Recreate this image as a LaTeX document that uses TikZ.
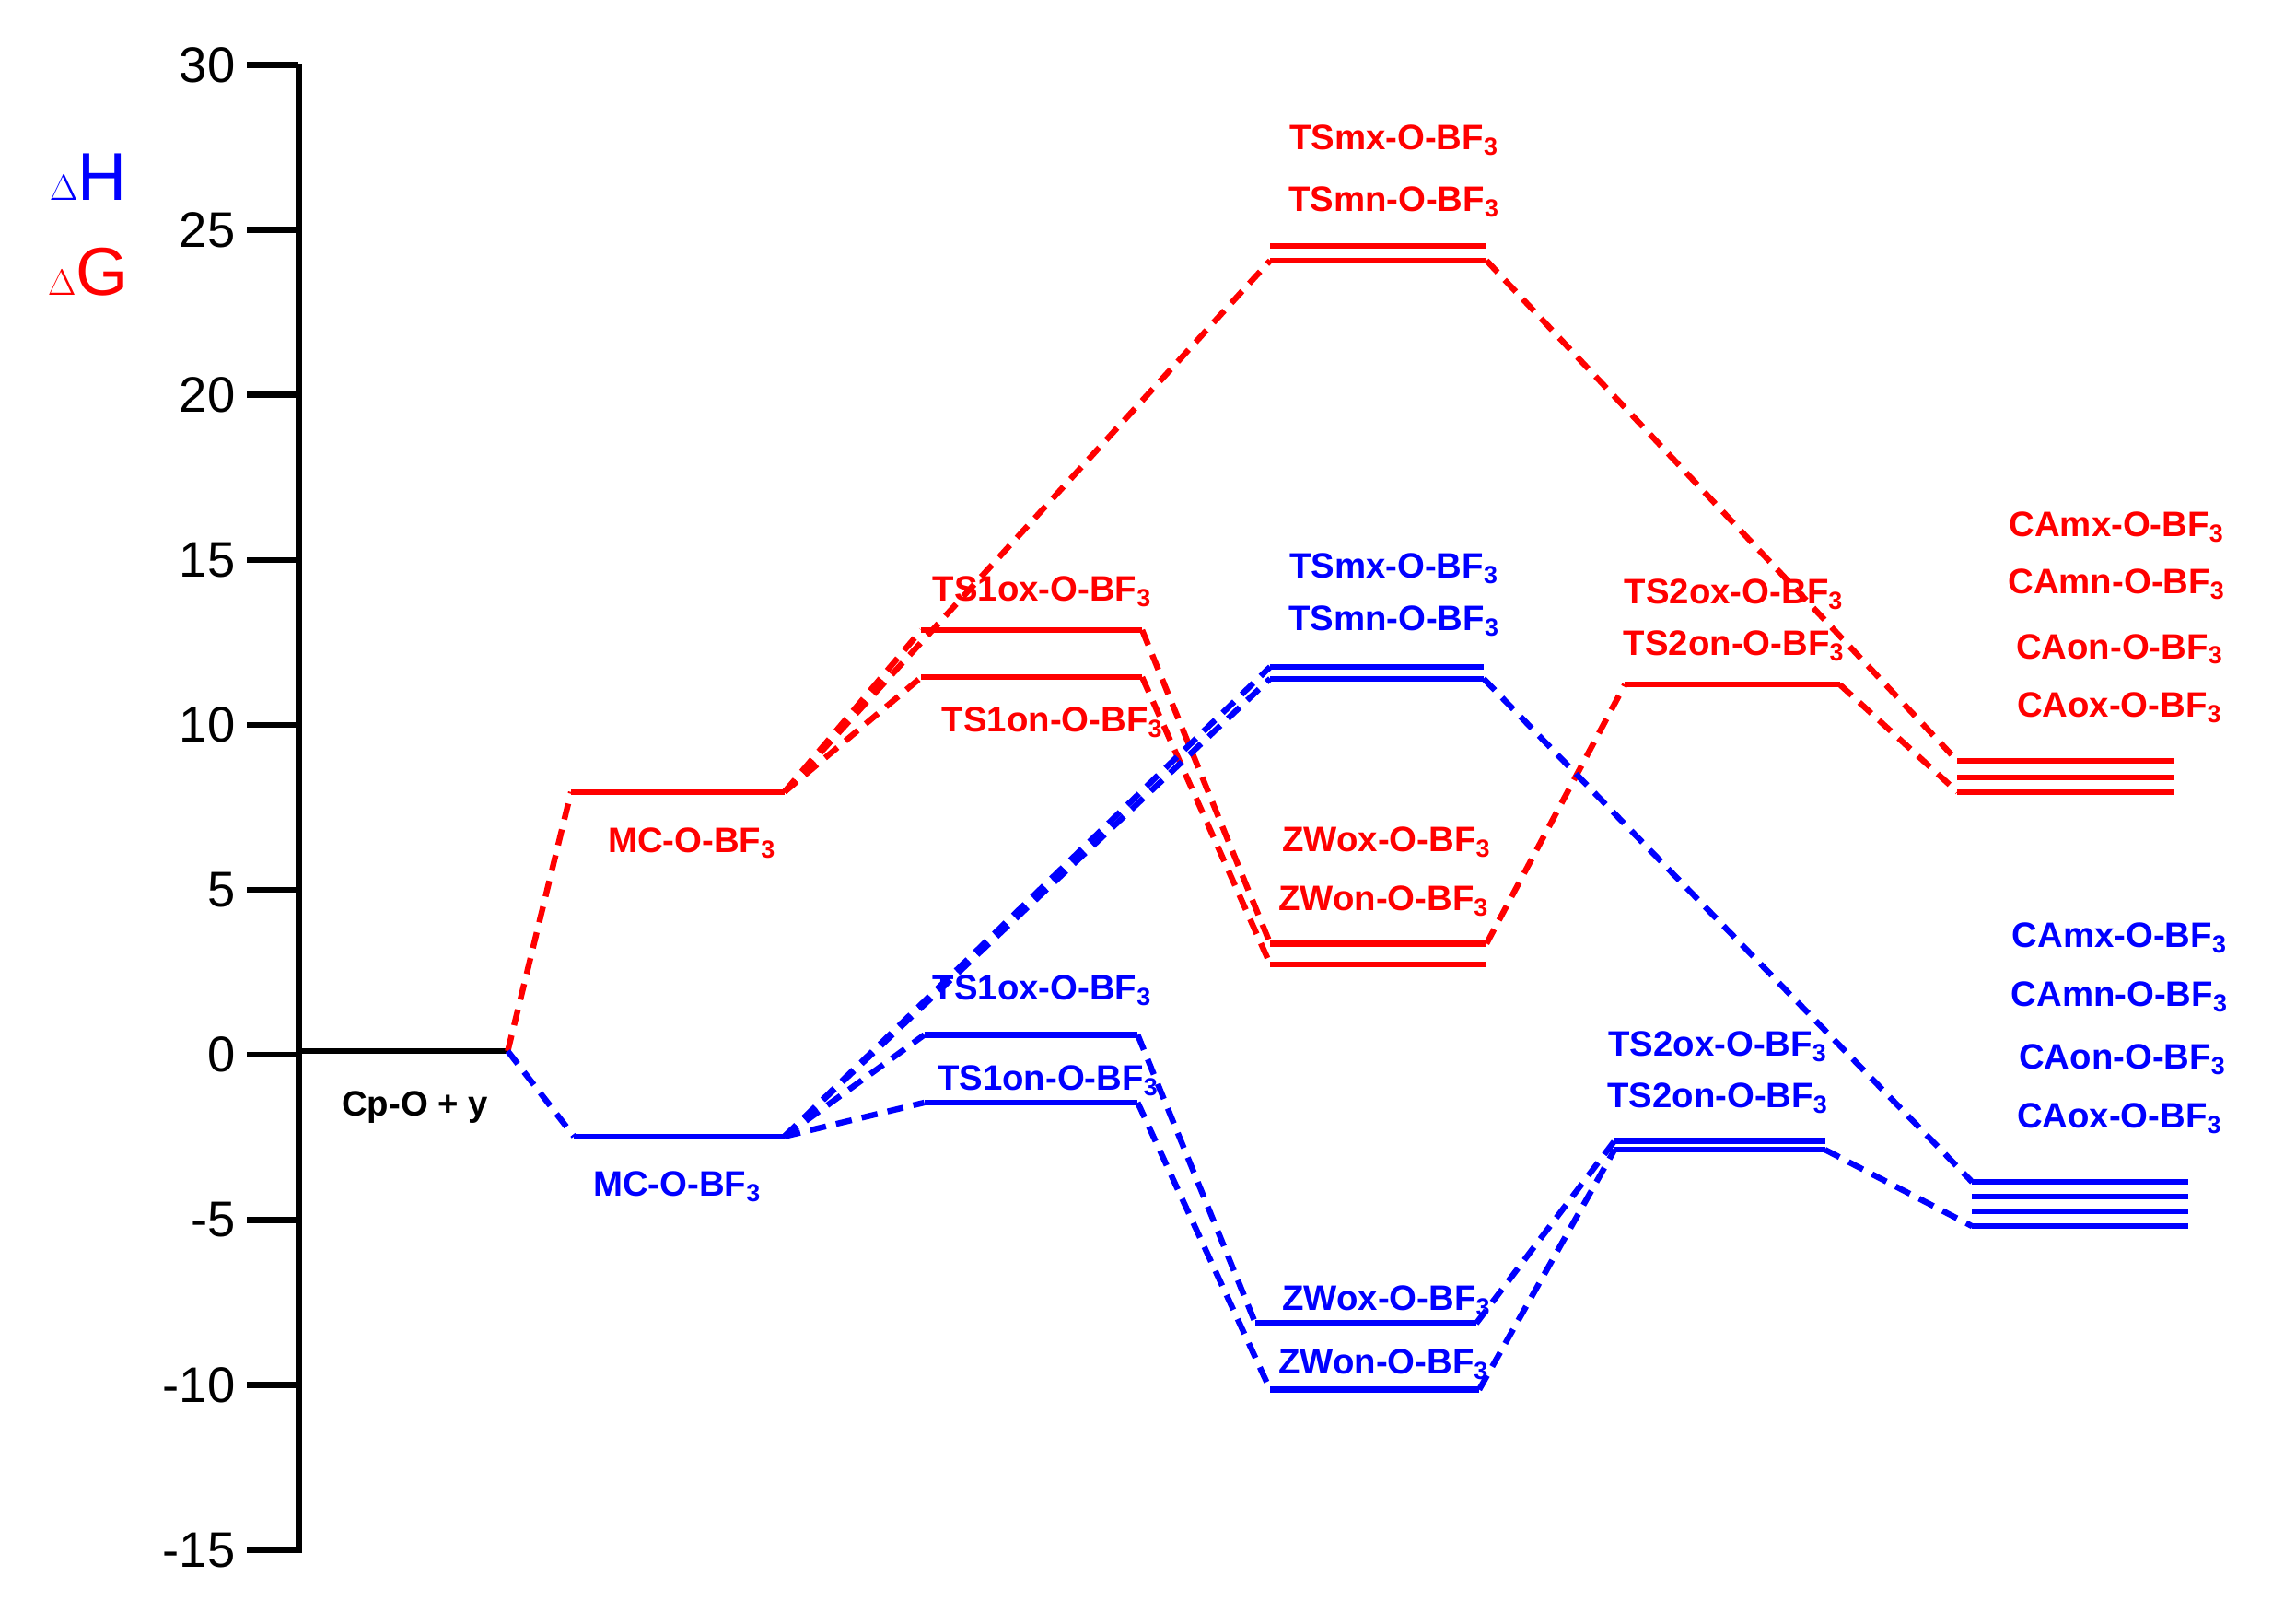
\documentclass[tikz,border=0pt]{standalone}
\usepackage{fontspec}
\setmainfont{Liberation Sans}
\begin{document}
\begin{tikzpicture}[x=1pt,y=-1pt,
 lev/.style={line width=4pt},
 con/.style={line width=4pt,dash pattern=on 11pt off 7pt},
 lab/.style={font=\fontsize{24}{26}\selectfont\bfseries,inner sep=0pt},
 tick/.style={font=\fontsize{34}{36}\selectfont,anchor=east,inner sep=0pt}]
\definecolor{rr}{RGB}{255,0,0}\definecolor{bb}{RGB}{0,0,255}
\useasboundingbox (0,0) rectangle (1560,1095);
\newcommand{\bft}{O-BF\textsubscript{3}}
% axis
\draw[line width=4pt] (203,44) -- (203,1055);
\foreach \v [count=\i from 0] in {30,25,20,15,10,5,0,-5,-10,-15}{
 \draw[line width=4pt] (168,{44+\i*112.1}) -- (203,{44+\i*112.1});
 \node[tick] (t\i) at (160,{44+\i*112.1}) {\v};}
\node[font=\fontsize{46}{48}\selectfont,text=bb] (dh) at (60,120) {$\Delta$H};
\node[font=\fontsize{46}{48}\selectfont,text=rr] (dg) at (60,185) {$\Delta$G};
% base
\draw[lev] (203,714) coordinate (b0) -- (345,714) coordinate (b1);
\node[lab] (cp) at (282,752) {Cp-O + y};
% red levels
\begin{scope}[rr]
\draw[lev] (388,538) coordinate (rmcA) -- (533,538) coordinate (rmcB);
\draw[lev] (626,428) coordinate (r1xA) -- (776,428) coordinate (r1xB);
\draw[lev] (626,460) coordinate (r1nA) -- (776,460) coordinate (r1nB);
\draw[lev] (863,167) coordinate (rmxA) -- (1010,167) coordinate (rmxB);
\draw[lev] (863,177) coordinate (rmnA) -- (1010,177) coordinate (rmnB);
\draw[lev] (863,641) coordinate (rzxA) -- (1010,641) coordinate (rzxB);
\draw[lev] (863,655) coordinate (rznA) -- (1010,655) coordinate (rznB);
\draw[lev] (1104,465) coordinate (r2A) -- (1250,465) coordinate (r2B);
\draw[lev] (1330,517) coordinate (rc1) -- (1477,517);
\draw[lev] (1330,528) coordinate (rc2) -- (1477,528);
\draw[lev] (1330,538) coordinate (rc3) -- (1477,538);
\draw[con] (b1) -- (rmcA);
\draw[con] (rmcB) -- (r1xA); \draw[con] (rmcB) -- (r1nA);
\draw[con] (rmcB) -- (rmnA);
\draw[con] (r1xB) -- (rzxA); \draw[con] (r1nB) -- (rznA);
\draw[con] (rmnB) -- (rc1);
\draw[con] (rzxB) -- (r2A);
\draw[con] (r2B) -- (rc3);
\node[lab] (lrmc) at (470,573) {MC-\bft};
\node[lab] (lr1x) at (708,402) {TS1ox-\bft};
\node[lab] (lr1n) at (715,491) {TS1on-\bft};
\node[lab] (lrmx) at (947,95) {TSmx-\bft};
\node[lab] (lrmn) at (947,137) {TSmn-\bft};
\node[lab] (lrzx) at (942,572) {ZWox-\bft};
\node[lab] (lrzn) at (940,612) {ZWon-\bft};
\node[lab] (lr2x) at (1178,404) {TS2ox-\bft};
\node[lab] (lr2n) at (1178,439) {TS2on-\bft};
\node[lab] (lrc1) at (1438,358) {CAmx-\bft};
\node[lab] (lrc2) at (1438,397) {CAmn-\bft};
\node[lab] (lrc3) at (1440,441) {CAon-\bft};
\node[lab] (lrc4) at (1440,481) {CAox-\bft};
\end{scope}
% blue levels
\begin{scope}[bb]
\draw[lev] (390,772) coordinate (bmcA) -- (533,772) coordinate (bmcB);
\draw[lev] (628,703) coordinate (b1xA) -- (773,703) coordinate (b1xB);
\draw[lev] (628,749) coordinate (b1nA) -- (773,749) coordinate (b1nB);
\draw[lev] (863,453) coordinate (bmxA) -- (1008,453) coordinate (bmxB);
\draw[lev] (863,461) coordinate (bmnA) -- (1008,461) coordinate (bmnB);
\draw[lev] (853,899) coordinate (bzxA) -- (1003,899) coordinate (bzxB);
\draw[lev] (863,944) coordinate (bznA) -- (1005,944) coordinate (bznB);
\draw[lev] (1097,775) coordinate (b2xA) -- (1240,775) coordinate (b2xB);
\draw[lev] (1097,781) coordinate (b2nA) -- (1240,781) coordinate (b2nB);
\draw[lev] (1340,803) coordinate (bc1) -- (1487,803);
\draw[lev] (1340,813) coordinate (bc2) -- (1487,813);
\draw[lev] (1340,823) coordinate (bc3) -- (1487,823);
\draw[lev] (1340,833) coordinate (bc4) -- (1487,833);
\draw[con] (b1) -- (bmcA);
\draw[con] (bmcB) -- (b1xA); \draw[con] (bmcB) -- (b1nA);
\draw[con] (bmcB) -- (bmxA); \draw[con] (bmcB) -- (bmnA);
\draw[con] (b1xB) -- (bzxA); \draw[con] (b1nB) -- (bznA);
\draw[con] (bmnB) -- (bc1);
\draw[con] (bzxB) -- (b2xA); \draw[con] (bznB) -- (b2nA);
\draw[con] (b2nB) -- (bc4);
\node[lab] (lbmc) at (460,806) {MC-\bft};
\node[lab] (lb1x) at (708,673) {TS1ox-\bft};
\node[lab] (lb1n) at (712,734) {TS1on-\bft};
\node[lab] (lbmx) at (947,386) {TSmx-\bft};
\node[lab] (lbmn) at (947,422) {TSmn-\bft};
\node[lab] (lbzx) at (942,884) {ZWox-\bft};
\node[lab] (lbzn) at (940,927) {ZWon-\bft};
\node[lab] (lb2x) at (1167,711) {TS2ox-\bft};
\node[lab] (lb2n) at (1167,746) {TS2on-\bft};
\node[lab] (lbc1) at (1440,637) {CAmx-\bft};
\node[lab] (lbc2) at (1440,677) {CAmn-\bft};
\node[lab] (lbc3) at (1442,720) {CAon-\bft};
\node[lab] (lbc4) at (1440,760) {CAox-\bft};
\end{scope}
\end{tikzpicture}
\end{document}
